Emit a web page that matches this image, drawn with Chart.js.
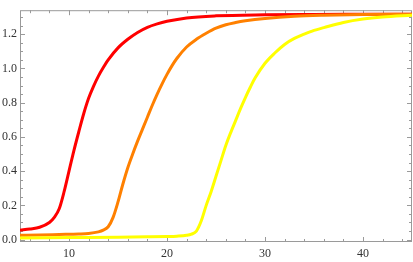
<!DOCTYPE html>
<html>
<head>
<meta charset="utf-8">
<script src="https://cdn.jsdelivr.net/npm/chart.js@4"></script>
<style>
  html, body { margin: 0; padding: 0; background: #fff; }
  #wrap { width: 413px; height: 262px; }
</style>
</head>
<body>
<div id="wrap"><canvas id="plot" width="413" height="262"></canvas></div>
<script>
// values
const redX = [5, 6, 7, 8, 8.5, 9, 9.5, 10, 10.5, 11, 11.5, 12, 12.5, 13, 13.5, 14, 15, 16, 17, 18, 19, 20, 22, 25, 30, 35, 40, 45];
const redY = [0.055, 0.062, 0.072, 0.1, 0.13, 0.18, 0.28, 0.4, 0.52, 0.63, 0.735, 0.825, 0.895, 0.955, 1.005, 1.05, 1.12, 1.17, 1.21, 1.24, 1.26, 1.275, 1.295, 1.307, 1.313, 1.315, 1.316, 1.317];

const orangeX = [5, 7, 9, 11, 12, 13, 13.5, 14, 14.5, 15, 15.5, 16, 16.5, 17, 17.5, 18, 18.5, 19, 19.5, 20, 20.5, 21, 22, 23, 24, 25, 26, 27, 28, 30, 33, 36, 40, 45];
const orangeY = [0.025, 0.027, 0.03, 0.033, 0.036, 0.045, 0.055, 0.075, 0.13, 0.22, 0.325, 0.42, 0.5, 0.575, 0.645, 0.715, 0.785, 0.85, 0.91, 0.965, 1.015, 1.058, 1.125, 1.17, 1.205, 1.235, 1.255, 1.268, 1.278, 1.292, 1.305, 1.311, 1.315, 1.317];

const yellowX = [5, 10, 15, 18, 20, 21, 22, 22.5, 23, 23.5, 24, 24.5, 25, 25.5, 26, 26.5, 27, 27.5, 28, 28.5, 29, 30, 31, 32, 33, 34, 35, 36, 38, 40, 42, 45];
const yellowY = [0.01, 0.012, 0.014, 0.016, 0.018, 0.02, 0.025, 0.032, 0.05, 0.11, 0.2, 0.28, 0.37, 0.46, 0.55, 0.625, 0.695, 0.765, 0.83, 0.89, 0.945, 1.03, 1.09, 1.14, 1.175, 1.2, 1.222, 1.238, 1.268, 1.288, 1.3, 1.31];

const xTicks = [10, 20, 30, 40];
const yTicks = [0, 0.2, 0.4, 0.6, 0.8, 1.0, 1.2];

const toPoints = (xs, ys) => xs.map((x, i) => ({ x: x, y: ys[i] }));

const frameColor = "#9a9a9a";

// Mathematica style frame with ticks pointing inward on all four sides
const framePlugin = {
  id: "frame",
  beforeDatasetsDraw(chart) {
    const { ctx, chartArea: a, scales } = chart;
    const xs = scales.x, ys = scales.y;
    ctx.save();
    ctx.strokeStyle = frameColor;
    ctx.lineWidth = 1;
    ctx.strokeRect(a.left + 0.5, a.top + 0.5, a.right - a.left - 1, a.bottom - a.top - 1);

    ctx.beginPath();
    for (let v = 6; v < 45; v += 2) {
      const len = v % 10 === 0 ? 5 : 3;
      const px = Math.round(xs.getPixelForValue(v)) + 0.5;
      ctx.moveTo(px, a.bottom);
      ctx.lineTo(px, a.bottom - len);
      ctx.moveTo(px, a.top);
      ctx.lineTo(px, a.top + len);
    }
    for (let k = 0; k <= 26; k++) {
      const v = k * 0.05;
      const len = k % 4 === 0 ? 5 : 3;
      const py = Math.round(ys.getPixelForValue(v)) + 0.5;
      ctx.moveTo(a.left, py);
      ctx.lineTo(a.left + len, py);
      ctx.moveTo(a.right, py);
      ctx.lineTo(a.right - len, py);
    }
    ctx.stroke();
    ctx.restore();
  },
};

const lineSet = (label, xs, ys, color) => ({
  label: label,
  data: toPoints(xs, ys),
  borderColor: color,
  borderWidth: 3,
  pointRadius: 0,
  fill: false,
  cubicInterpolationMode: "monotone",
});

new Chart(document.getElementById("plot"), {
  type: "line",
  data: {
    datasets: [
      lineSet("yellow", yellowX, yellowY, "#ffff00"),
      lineSet("orange", orangeX, orangeY, "#ff8000"),
      lineSet("red", redX, redY, "#ff0000"),
    ],
  },
  options: {
    responsive: false,
    animation: false,
    layout: { padding: { top: 1, right: 1, left: 0, bottom: 0 } },
    plugins: { legend: { display: false }, tooltip: { enabled: false } },
    scales: {
      x: {
        type: "linear",
        min: 5,
        max: 45,
        grid: { display: false, drawTicks: false },
        border: { display: false },
        afterBuildTicks: (s) => { s.ticks = xTicks.map((v) => ({ value: v })); },
        afterFit: (s) => { s.height = 20; },
        ticks: {
          padding: 5,
          color: "#333",
          font: { family: "Liberation Serif", size: 12 },
          maxRotation: 0,
          callback: (v) => String(v),
        },
      },
      y: {
        min: -0.014,
        max: 1.34,
        grid: { display: false, drawTicks: false },
        border: { display: false },
        afterBuildTicks: (s) => { s.ticks = yTicks.map((v) => ({ value: v })); },
        afterFit: (s) => { s.width = 20; },
        ticks: {
          padding: 3,
          color: "#333",
          font: { family: "Liberation Serif", size: 12 },
          callback: (v) => Number(v).toFixed(1),
        },
      },
    },
  },
  plugins: [framePlugin],
});
</script>
</body>
</html>
